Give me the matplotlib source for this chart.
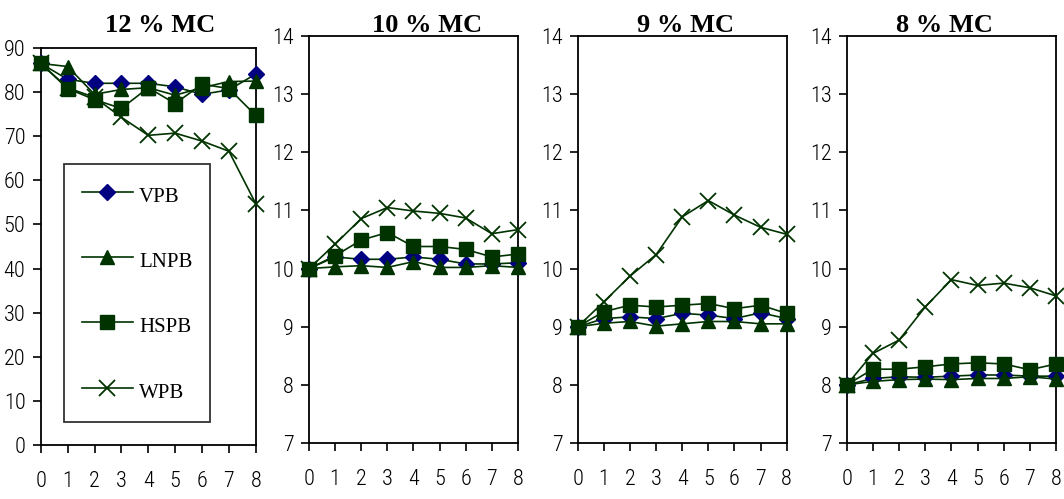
import matplotlib
matplotlib.use("Agg")
import matplotlib.pyplot as plt
from matplotlib.lines import Line2D

# x positions shared by every panel
days = [0, 1, 2, 3, 4, 5, 6, 7, 8]
series = ["VPB", "LNPB", "HSPB", "WPB"]
titles = ["12 % MC", "10 % MC", "9 % MC", "8 % MC"]

# 12 % MC
vpb_12 = [86.5, 82.9, 82.0, 82.0, 82.0, 81.2, 79.5, 80.5, 84.1]
lnpb_12 = [86.5, 85.8, 79.5, 80.6, 81.0, 79.3, 81.0, 82.4, 82.5]
hspb_12 = [86.5, 80.8, 78.3, 76.3, 81.0, 77.4, 81.8, 80.8, 74.7]
wpb_12 = [86.5, 81.0, 78.8, 74.3, 70.2, 70.7, 68.9, 66.6, 54.7]

# 10 % MC
vpb_10 = [10.0, 10.20, 10.16, 10.16, 10.20, 10.16, 10.08, 10.08, 10.10]
lnpb_10 = [10.0, 10.03, 10.05, 10.02, 10.12, 10.02, 10.02, 10.05, 10.02]
hspb_10 = [10.0, 10.22, 10.49, 10.62, 10.38, 10.38, 10.33, 10.20, 10.25]
wpb_10 = [10.0, 10.42, 10.86, 11.05, 10.99, 10.95, 10.87, 10.60, 10.67]

# 9 % MC
vpb_9 = [9.0, 9.14, 9.17, 9.14, 9.23, 9.20, 9.14, 9.24, 9.14]
lnpb_9 = [9.0, 9.06, 9.09, 9.01, 9.05, 9.09, 9.09, 9.05, 9.05]
hspb_9 = [9.0, 9.26, 9.37, 9.34, 9.37, 9.40, 9.31, 9.37, 9.23]
wpb_9 = [9.0, 9.43, 9.87, 10.24, 10.89, 11.17, 10.92, 10.71, 10.59]

# 8 % MC
vpb_8 = [8.0, 8.11, 8.14, 8.13, 8.15, 8.17, 8.17, 8.15, 8.15]
lnpb_8 = [8.0, 8.06, 8.09, 8.10, 8.09, 8.11, 8.11, 8.14, 8.10]
hspb_8 = [8.0, 8.27, 8.27, 8.31, 8.36, 8.38, 8.36, 8.26, 8.36]
wpb_8 = [8.0, 8.54, 8.77, 9.34, 9.81, 9.71, 9.75, 9.67, 9.53]

panels = [
    (vpb_12, lnpb_12, hspb_12, wpb_12),
    (vpb_10, lnpb_10, hspb_10, wpb_10),
    (vpb_9, lnpb_9, hspb_9, wpb_9),
    (vpb_8, lnpb_8, hspb_8, wpb_8),
]

GREEN = "#003300"
NAVY = "#000080"
styles = {
    "VPB": dict(marker="D", ms=8, mfc=NAVY, mec=NAVY),
    "LNPB": dict(marker="^", ms=10, mfc=GREEN, mec=GREEN),
    "HSPB": dict(marker="s", ms=10, mfc=GREEN, mec=GREEN),
    "WPB": dict(marker="x", ms=11, mfc=GREEN, mec=GREEN, mew=1.3),
}

# condensed look for the tick numbers, serif bold for titles
tick_font = dict(family=["Roboto Condensed", "Saira ExtraCondensed", "DejaVu Sans"],
                 size=16, weight="light")
title_font = dict(family=["Liberation Serif", "DejaVu Serif"], size=19, weight="bold")

fig = plt.figure(figsize=(10.64, 4.99), dpi=100)
rects = [
    [0.0383, 0.1082, 0.2021, 0.7956],
    [0.2904, 0.1122, 0.1964, 0.8156],
    [0.5430, 0.1122, 0.1964, 0.8156],
    [0.7958, 0.1122, 0.1967, 0.8156],
]
title_x = [0.556, 0.567, 0.514, 0.467]   # title centre, fraction of each axes width

for i, (rect, data, title) in enumerate(zip(rects, panels, titles)):
    ax = fig.add_axes(rect)
    for name, vals in zip(series, data):
        ax.plot(days, vals, color=GREEN, lw=1.2, clip_on=False, zorder=3, **styles[name])
    ax.set_xlim(0, 8)
    if i == 0:
        ax.set_ylim(0, 90)
        ax.set_yticks(range(0, 91, 10))
    else:
        ax.set_ylim(7, 14)
        ax.set_yticks(range(7, 15))
    ax.set_xticks(days)
    ax.set_xticklabels([str(d) for d in days], **tick_font)
    ax.set_yticklabels([str(int(t)) for t in ax.get_yticks()], **tick_font)
    ax.tick_params(direction="out", length=6, width=1.2, color="black")
    ax.tick_params(axis="x", pad=13)
    ax.tick_params(axis="y", pad=5)
    for sp in ax.spines.values():
        sp.set_linewidth(1.3)
        sp.set_color("black")
    fig.text(rect[0] + rect[2] * title_x[i], 1 - 32 / 499, title,
             ha="center", va="baseline", **title_font)

    if i == 0:
        handles = [Line2D([0], [0], color=GREEN, lw=1.2, **styles[n]) for n in series]
        leg = ax.legend(handles, series, loc="lower left", bbox_to_anchor=(0.108, 0.058),
                        frameon=True, fancybox=False, edgecolor="black",
                        prop=dict(family=["Liberation Serif", "DejaVu Serif"], size=15),
                        labelspacing=1.85, handlelength=2.45, handleheight=1.6,
                        handletextpad=0.3, borderpad=0.85, borderaxespad=0)
        leg.get_frame().set_linewidth(1.3)

fig.savefig("out.png", dpi=100)
